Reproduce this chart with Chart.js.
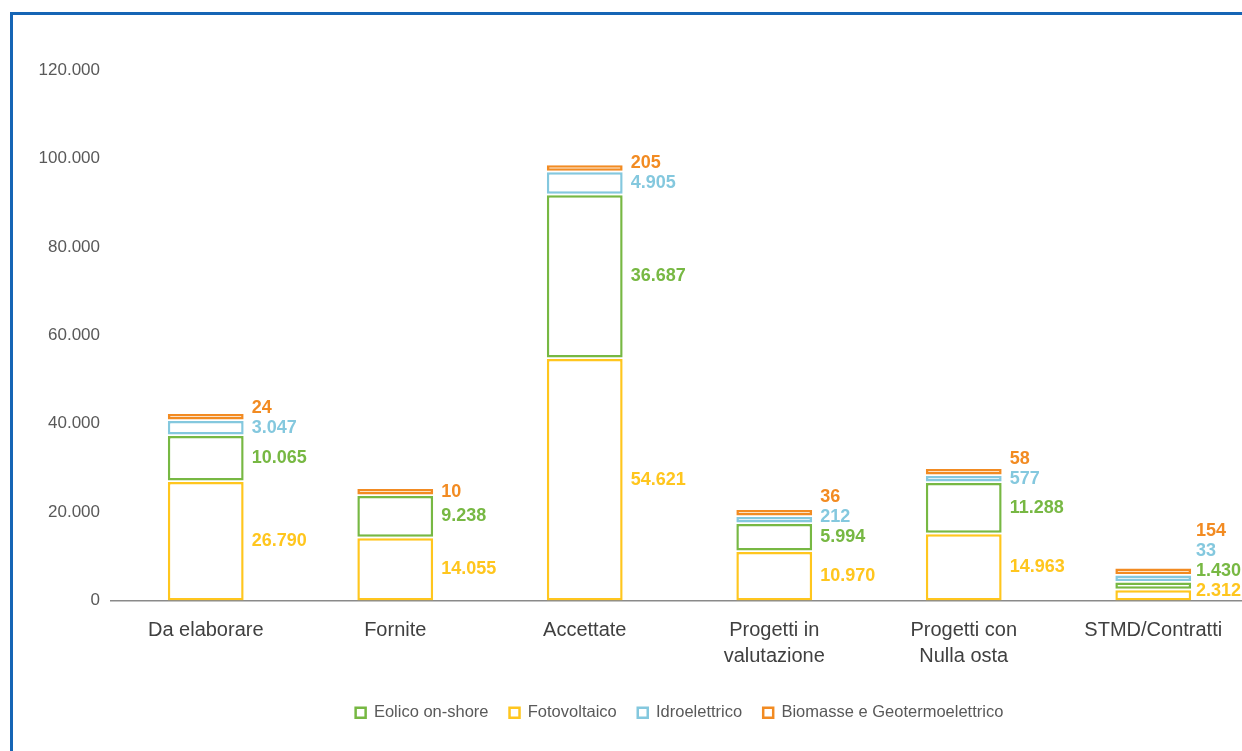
<!DOCTYPE html>
<html>
<head>
<meta charset="utf-8">
<script src="https://cdn.jsdelivr.net/npm/chart.js@4.4.1/dist/chart.umd.min.js"></script>
<style>
  html, body { margin: 0; padding: 0; background: #fff; overflow: hidden; }
  #frame { position: absolute; left: 10px; top: 12px; width: 1300px; height: 800px;
           border-left: 3px solid #1565b5; border-top: 3px solid #1565b5; }
  #wrap { position: absolute; left: 0; top: 0; width: 1248px; height: 751px; }
</style>
</head>
<body>
<div id="frame"></div>
<div id="wrap"><canvas id="chart"></canvas></div>
<script>
// categories and series (stack order, bottom to top)
const categories = ['Da elaborare', 'Fornite', 'Accettate', ['Progetti in', 'valutazione'], ['Progetti con', 'Nulla osta'], 'STMD/Contratti'];
const fotovoltaico = [26790, 14055, 54621, 10970, 14963, 2312];
const eolico = [10065, 9238, 36687, 5994, 11288, 1430];
const idroelettrico = [3047, null, 4905, 212, 577, 33];
const biomasse = [24, 10, 205, 36, 58, 154];
const legendOrder = ['Eolico on-shore', 'Fotovoltaico', 'Idroelettrico', 'Biomasse e Geotermoelettrico'];

const FONT = "'Liberation Sans', Arial, sans-serif";
const MIN_H = 5.5;      // smallest drawn segment, px
const GAP = 1.5;        // white gap between stacked segments
const LABEL_STEP = 20;  // min vertical distance between value labels
const VISIBLE_W = 1242; // page width, canvas is a bit wider

const fmt = n => String(n).replace(/\B(?=(\d{3})+(?!\d))/g, '.');

// push stacked segments apart a little and give tiny ones a visible height
const stackGap = {
    id: 'stackGap',
    afterDatasetsUpdate(chart) {
        const metas = chart.getSortedVisibleDatasetMetas();
        categories.forEach((c, i) => {
            let cursor = null;
            metas.forEach(meta => {
                const v = chart.data.datasets[meta.index].data[i];
                const el = meta.data[i];
                if (v == null || !el) return;
                const h = Math.max(el.base - el.y, MIN_H);
                if (cursor === null) cursor = el.base;
                el.base = cursor;
                el.y = cursor - h;
                cursor = el.y - GAP;
            });
        });
    }
};

// coloured value labels to the right of each segment
const valueLabels = {
    id: 'valueLabels',
    afterDatasetsDraw(chart) {
        const ctx = chart.ctx;
        const metas = chart.getSortedVisibleDatasetMetas();
        ctx.save();
        ctx.font = 'bold 18px ' + FONT;
        ctx.textAlign = 'left';
        ctx.textBaseline = 'middle';
        categories.forEach((c, i) => {
            const items = [];
            metas.forEach(meta => {
                const ds = chart.data.datasets[meta.index];
                const v = ds.data[i];
                const el = meta.data[i];
                if (v == null || !el) return;
                items.push({ txt: fmt(v), color: ds.borderColor, el });
            });
            if (!items.length) return;
            const widest = Math.max(...items.map(it => ctx.measureText(it.txt).width));
            const el0 = items[0].el;
            const x = Math.min(el0.x + el0.width / 2 + 8, VISIBLE_W - 1 - widest);
            let limit = chart.chartArea.bottom - 9;
            items.forEach(it => {
                const y = Math.min((it.el.y + it.el.base) / 2, limit);
                ctx.fillStyle = it.color;
                ctx.fillText(it.txt, x, y);
                limit = y - LABEL_STEP;
            });
        });
        ctx.restore();
    }
};

const mk = (label, data, color) => ({
    label, data,
    backgroundColor: '#ffffff',
    borderColor: color,
    borderWidth: 2.5,
    borderSkipped: false,
    categoryPercentage: 0.8,
    barPercentage: 0.5
});

new Chart(document.getElementById('chart'), {
    type: 'bar',
    data: {
        labels: categories,
        datasets: [
            mk('Fotovoltaico', fotovoltaico, '#ffc61e'),
            mk('Eolico on-shore', eolico, '#77b843'),
            mk('Idroelettrico', idroelettrico, '#84c8de'),
            mk('Biomasse e Geotermoelettrico', biomasse, '#f28b22')
        ]
    },
    plugins: [stackGap, valueLabels],
    options: {
        responsive: true,
        maintainAspectRatio: false,
        animation: false,
        layout: { padding: { top: 70, right: 0, bottom: 20, left: 0 } },
        plugins: {
            tooltip: { enabled: false },
            legend: {
                position: 'bottom',
                fullSize: false,
                labels: {
                    boxWidth: 10,
                    boxHeight: 10,
                    padding: 21,
                    color: '#595959',
                    font: { family: FONT, size: 16.5 },
                    sort: (a, b) => legendOrder.indexOf(a.text) - legendOrder.indexOf(b.text)
                }
            }
        },
        scales: {
            x: {
                stacked: true,
                grid: { display: false },
                border: { display: true, color: '#8a8a8a', width: 1.5 },
                ticks: { color: '#404040', padding: 9, font: { family: FONT, size: 20, lineHeight: 1.3 }, maxRotation: 0 },
                afterFit: s => { s.height = 83; }
            },
            y: {
                stacked: true,
                min: 0,
                max: 120000,
                grid: { display: false },
                border: { display: false },
                ticks: {
                    stepSize: 20000,
                    color: '#595959',
                    padding: 3,
                    font: { family: FONT, size: 17 },
                    callback: v => fmt(v)
                },
                afterFit: s => { s.width = 111; }
            }
        }
    }
});
</script>
</body>
</html>
